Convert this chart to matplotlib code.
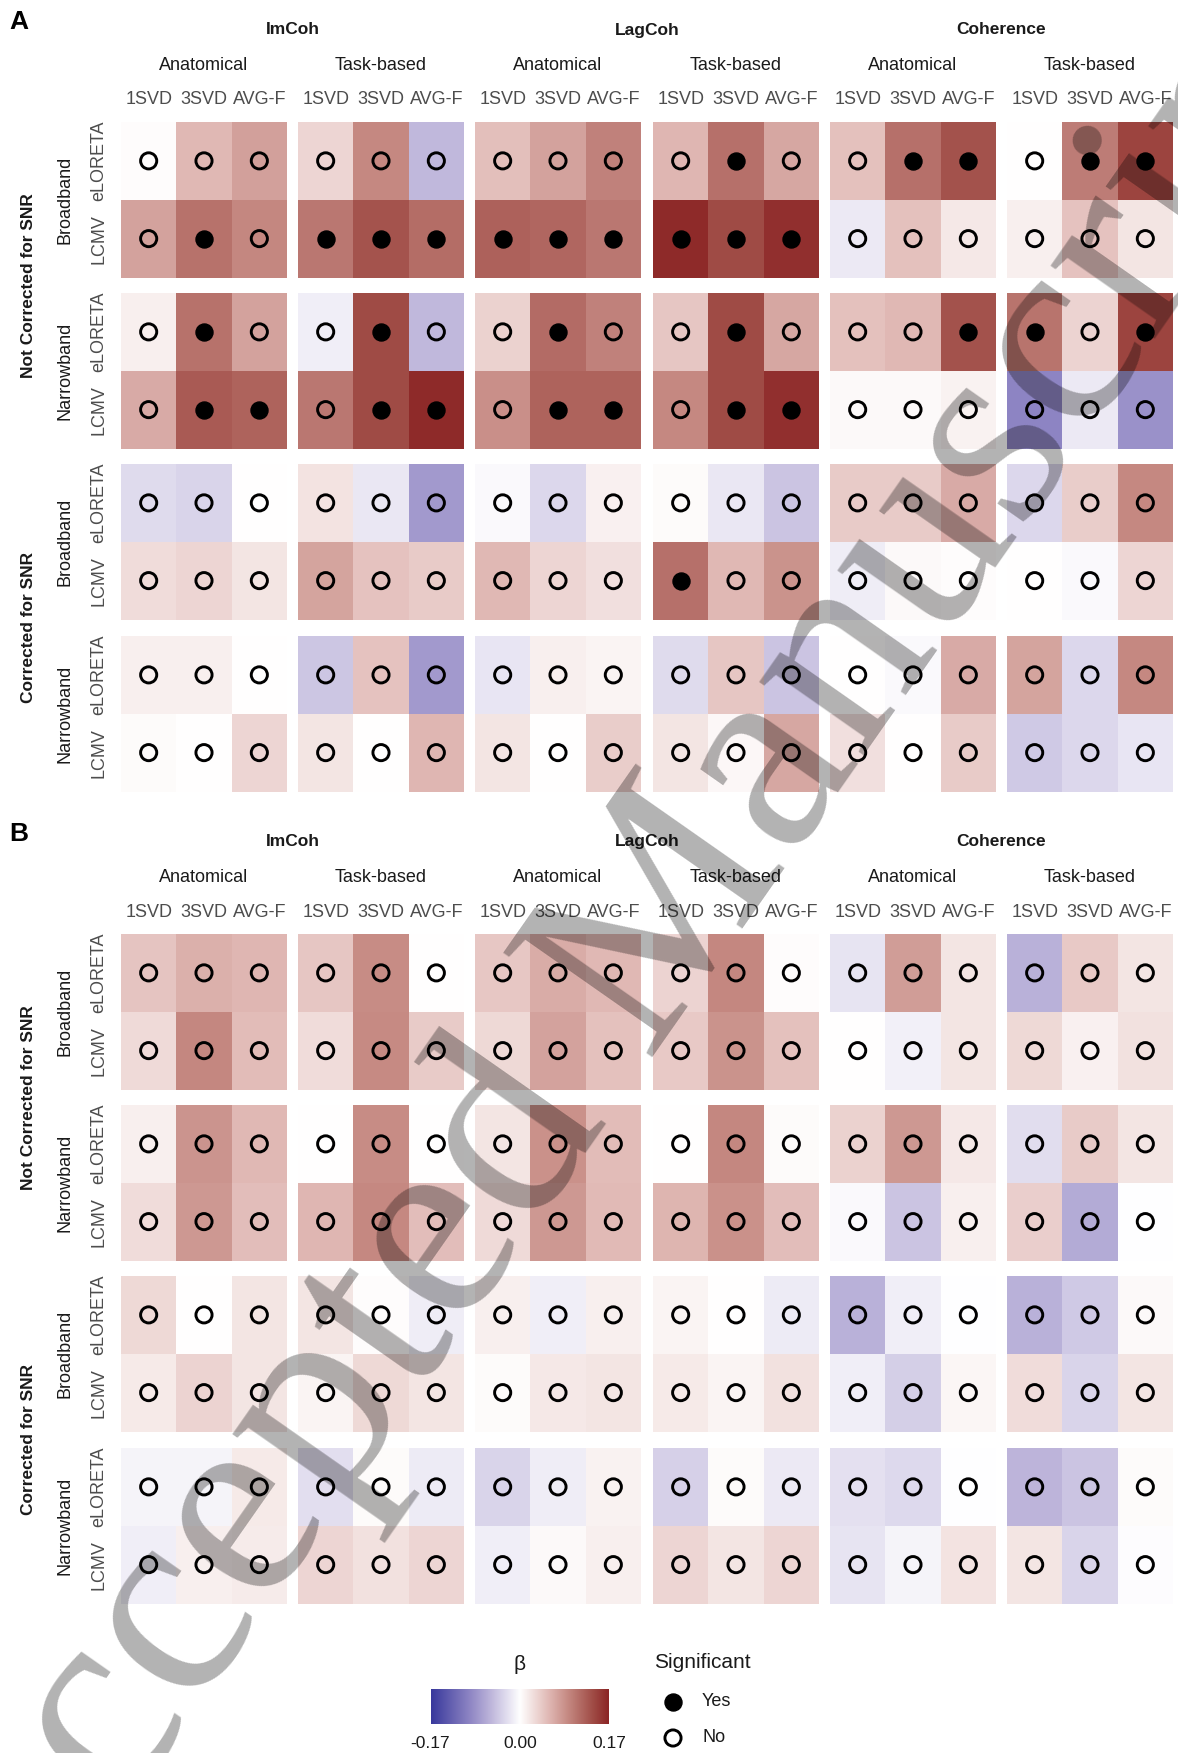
import numpy as np
import matplotlib
matplotlib.use("Agg")
import matplotlib.pyplot as plt
from matplotlib.colors import LinearSegmentedColormap, Normalize

plt.rcParams['font.family'] = ['Liberation Sans', 'DejaVu Sans']

# ---- data ----
metrics = ['ImCoh', 'LagCoh', 'Coherence']
atlases = ['Anatomical', 'Task-based']
methods = ['1SVD', '3SVD', 'AVG-F']
snr_groups = ['Not Corrected for SNR', 'Corrected for SNR']
bands = ['Broadband', 'Narrowband']
inverse = ['eLORETA', 'LCMV']

# rows: (snr, band, inverse) in order; columns: metric x atlas x method
beta_A = [
    [0.002, 0.055, 0.074, 0.033, 0.092, -0.054, 0.050, 0.073, 0.098, 0.057, 0.111, 0.068, 0.049, 0.111, 0.135, 0.000, 0.101, 0.146],
    [0.073, 0.109, 0.094, 0.105, 0.133, 0.113, 0.123, 0.119, 0.106, 0.165, 0.140, 0.162, -0.016, 0.049, 0.018, 0.012, 0.047, 0.020],
    [0.013, 0.109, 0.073, -0.013, 0.140, -0.054, 0.035, 0.115, 0.098, 0.045, 0.140, 0.068, 0.049, 0.055, 0.135, 0.108, 0.034, 0.145],
    [0.066, 0.128, 0.122, 0.105, 0.140, 0.166, 0.087, 0.122, 0.122, 0.092, 0.140, 0.161, 0.004, 0.005, 0.010, -0.096, -0.016, -0.086],
    [-0.027, -0.032, 0.000, 0.022, -0.018, -0.079, -0.005, -0.030, 0.011, 0.003, -0.018, -0.044, 0.041, 0.040, 0.066, -0.030, 0.039, 0.092],
    [0.027, 0.033, 0.020, 0.071, 0.047, 0.040, 0.055, 0.032, 0.024, 0.111, 0.055, 0.084, -0.014, 0.005, 0.002, 0.001, -0.004, 0.032],
    [0.012, 0.012, 0.000, -0.043, 0.047, -0.079, -0.019, 0.012, 0.008, -0.027, 0.045, -0.044, 0.000, -0.004, 0.066, 0.071, -0.030, 0.092],
    [0.003, 0.000, 0.033, 0.020, 0.000, 0.056, 0.020, 0.000, 0.039, 0.020, 0.006, 0.069, 0.024, 0.000, 0.041, -0.041, -0.030, -0.019],
]
sig_A = [
    [0, 0, 0, 0, 0, 0, 0, 0, 0, 0, 1, 0, 0, 1, 1, 0, 1, 1],
    [0, 1, 0, 1, 1, 1, 1, 1, 1, 1, 1, 1, 0, 0, 0, 0, 0, 0],
    [0, 1, 0, 0, 1, 0, 0, 1, 0, 0, 1, 0, 0, 0, 1, 1, 0, 1],
    [0, 1, 1, 0, 1, 1, 0, 1, 1, 0, 1, 1, 0, 0, 0, 0, 0, 0],
    [0] * 18,
    [0, 0, 0, 0, 0, 0, 0, 0, 0, 1, 0, 0, 0, 0, 0, 0, 0, 0],
    [0] * 18,
    [0] * 18,
]
beta_B = [
    [0.046, 0.062, 0.056, 0.044, 0.089, 0.001, 0.043, 0.064, 0.055, 0.034, 0.094, 0.002, -0.021, 0.076, 0.020, -0.059, 0.042, 0.020],
    [0.029, 0.094, 0.052, 0.027, 0.091, 0.041, 0.030, 0.073, 0.049, 0.042, 0.084, 0.048, 0.000, -0.011, 0.020, 0.030, 0.011, 0.023],
    [0.012, 0.083, 0.055, 0.000, 0.090, 0.001, 0.020, 0.085, 0.053, 0.000, 0.094, 0.003, 0.035, 0.080, 0.018, -0.026, 0.041, 0.020],
    [0.027, 0.080, 0.051, 0.056, 0.092, 0.051, 0.029, 0.080, 0.054, 0.058, 0.085, 0.051, -0.004, -0.044, 0.013, 0.038, -0.064, -0.001],
    [0.030, 0.000, 0.020, 0.020, 0.002, -0.014, 0.013, -0.012, 0.012, 0.008, 0.000, -0.015, -0.059, -0.013, -0.001, -0.059, -0.041, 0.004],
    [0.016, 0.034, 0.020, 0.008, 0.030, 0.020, 0.003, 0.018, 0.020, 0.017, 0.008, 0.023, -0.012, -0.036, 0.007, 0.027, -0.032, 0.020],
    [-0.008, -0.009, 0.017, -0.024, 0.003, -0.015, -0.033, -0.014, 0.010, -0.035, 0.003, -0.016, -0.023, -0.028, -0.001, -0.057, -0.044, 0.003],
    [-0.012, 0.013, 0.015, 0.032, 0.023, 0.032, -0.012, 0.005, 0.012, 0.033, 0.020, 0.033, -0.020, -0.008, 0.022, 0.020, -0.032, -0.002],
]
sig_B = [[0] * 18 for _ in range(8)]

panels = [('A', beta_A, sig_A), ('B', beta_B, sig_B)]
beta_lim = 0.17

# colour scale (blue - white - dark red)
cmap = LinearSegmentedColormap.from_list('beta', [
    (0.0, '#38389C'), (0.22, '#8F86C4'), (0.342, '#C0B8DC'), (0.422, '#E0DCEE'),
    (0.5, '#FFFFFF'), (0.663, '#E0B8B4'), (0.771, '#C58982'), (0.911, '#A04C46'),
    (1.0, '#8B2525')])
norm = Normalize(-beta_lim, beta_lim)

# ---- layout (pixels) ----
W, H = 1178, 1753
fig = plt.figure(figsize=(W / 100, H / 100), dpi=100)

def fx(x):
    return x / W

def fy(y):
    return 1 - y / H

col_left = [121, 298, 475, 653, 830, 1007]
facet_w = 166
row_top = [122, 293, 464, 636]
facet_h = 155.5
panel_shift = 812

txt_dark = '#1A1A1A'
txt_gray = '#4D4D4D'

for p, (letter, beta, sig) in enumerate(panels):
    dy = p * panel_shift
    beta = np.array(beta)
    sig = np.array(sig)
    fig.text(fx(9), fy(22 + dy), letter, fontsize=19, fontweight='bold', ha='left', va='center')
    for m, metric in enumerate(metrics):
        xc = (col_left[2 * m] + col_left[2 * m + 1] + facet_w) / 2
        fig.text(fx(xc), fy(30 + dy), metric, fontsize=12.5, fontweight='bold',
                 ha='center', va='center', color=txt_dark)
    for g in range(2):
        yc = (row_top[2 * g] + row_top[2 * g + 1] + facet_h) / 2
        fig.text(fx(29), fy(yc + dy), snr_groups[g], fontsize=12.5, fontweight='bold',
                 rotation=90, ha='center', va='center', color=txt_dark)
    for r in range(4):
        top = row_top[r] + dy
        fig.text(fx(65), fy(top + facet_h / 2), bands[r % 2], fontsize=13,
                 rotation=90, ha='center', va='center', color=txt_dark)
        for c in range(6):
            left = col_left[c]
            ax = fig.add_axes([fx(left), fy(top + facet_h), facet_w / W, facet_h / H])
            vals = beta[2 * r:2 * r + 2, 3 * c:3 * c + 3]
            sg = sig[2 * r:2 * r + 2, 3 * c:3 * c + 3]
            ax.pcolormesh(np.arange(4), np.arange(3), vals, cmap=cmap, norm=norm,
                          edgecolors='face', linewidth=0)
            xx, yy = np.meshgrid(np.arange(3) + 0.5, np.arange(2) + 0.5)
            ax.scatter(xx[sg == 0], yy[sg == 0], s=135, facecolors='none',
                       edgecolors='black', linewidths=2.1, zorder=3)
            ax.scatter(xx[sg == 1], yy[sg == 1], s=150, color='black', zorder=3)
            ax.set_xlim(0, 3)
            ax.set_ylim(2, 0)
            for s in ax.spines.values():
                s.set_visible(False)
            ax.set_xticks([])
            ax.set_yticks([])
            if r == 0:
                for k, meth in enumerate(methods):
                    fig.text(fx(left + facet_w * (k + 0.5) / 3), fy(100 + dy), meth,
                             fontsize=13, ha='center', va='center', color=txt_gray)
                fig.text(fx(left + facet_w / 2), fy(66 + dy), atlases[c % 2],
                         fontsize=13, ha='center', va='center', color=txt_dark)
            if c == 0:
                for k, inv in enumerate(inverse):
                    fig.text(fx(99), fy(top + facet_h * (k + 0.5) / 2), inv,
                             fontsize=13, rotation=90, ha='center', va='center', color=txt_gray)

# ---- legend ----
cax = fig.add_axes([fx(431), fy(1724), (609 - 431) / W, (1724 - 1689) / H])
grad = np.linspace(-beta_lim, beta_lim, 256).reshape(1, -1)
cax.imshow(grad, cmap=cmap, norm=norm, aspect='auto', extent=[-beta_lim, beta_lim, 0, 1])
cax.set_xticks([])
cax.set_yticks([])
for s in cax.spines.values():
    s.set_visible(False)
fig.text(fx(520), fy(1664), 'β', fontsize=15, ha='center', va='center', color=txt_dark)
for v, xp in zip([-beta_lim, 0.0, beta_lim], [430, 520, 609]):
    fig.text(fx(xp), fy(1744), f'{v:.2f}', fontsize=12.5, ha='center', va='center', color=txt_dark)

fig.text(fx(654), fy(1663), 'Significant', fontsize=15, ha='left', va='center', color=txt_dark)
lax = fig.add_axes([fx(640), fy(1760), 60 / W, 80 / H])
lax.set_xlim(640, 700)
lax.set_ylim(1760, 1680)
lax.scatter([673], [1702], s=150, color='black')
lax.scatter([673], [1738], s=135, facecolors='none', edgecolors='black', linewidths=2.1)
lax.axis('off')
fig.text(fx(702), fy(1702), 'Yes', fontsize=13, ha='left', va='center', color=txt_dark)
fig.text(fx(702), fy(1738), 'No', fontsize=13, ha='left', va='center', color=txt_dark)

# ---- watermark ----
fig.text(fx(636), fy(965), 'Accepted Manuscript', rotation=55, fontsize=200,
         family='Liberation Serif', color='black', alpha=0.3,
         ha='center', va='center', rotation_mode='anchor', zorder=10)

fig.savefig('out.png', dpi=100)
